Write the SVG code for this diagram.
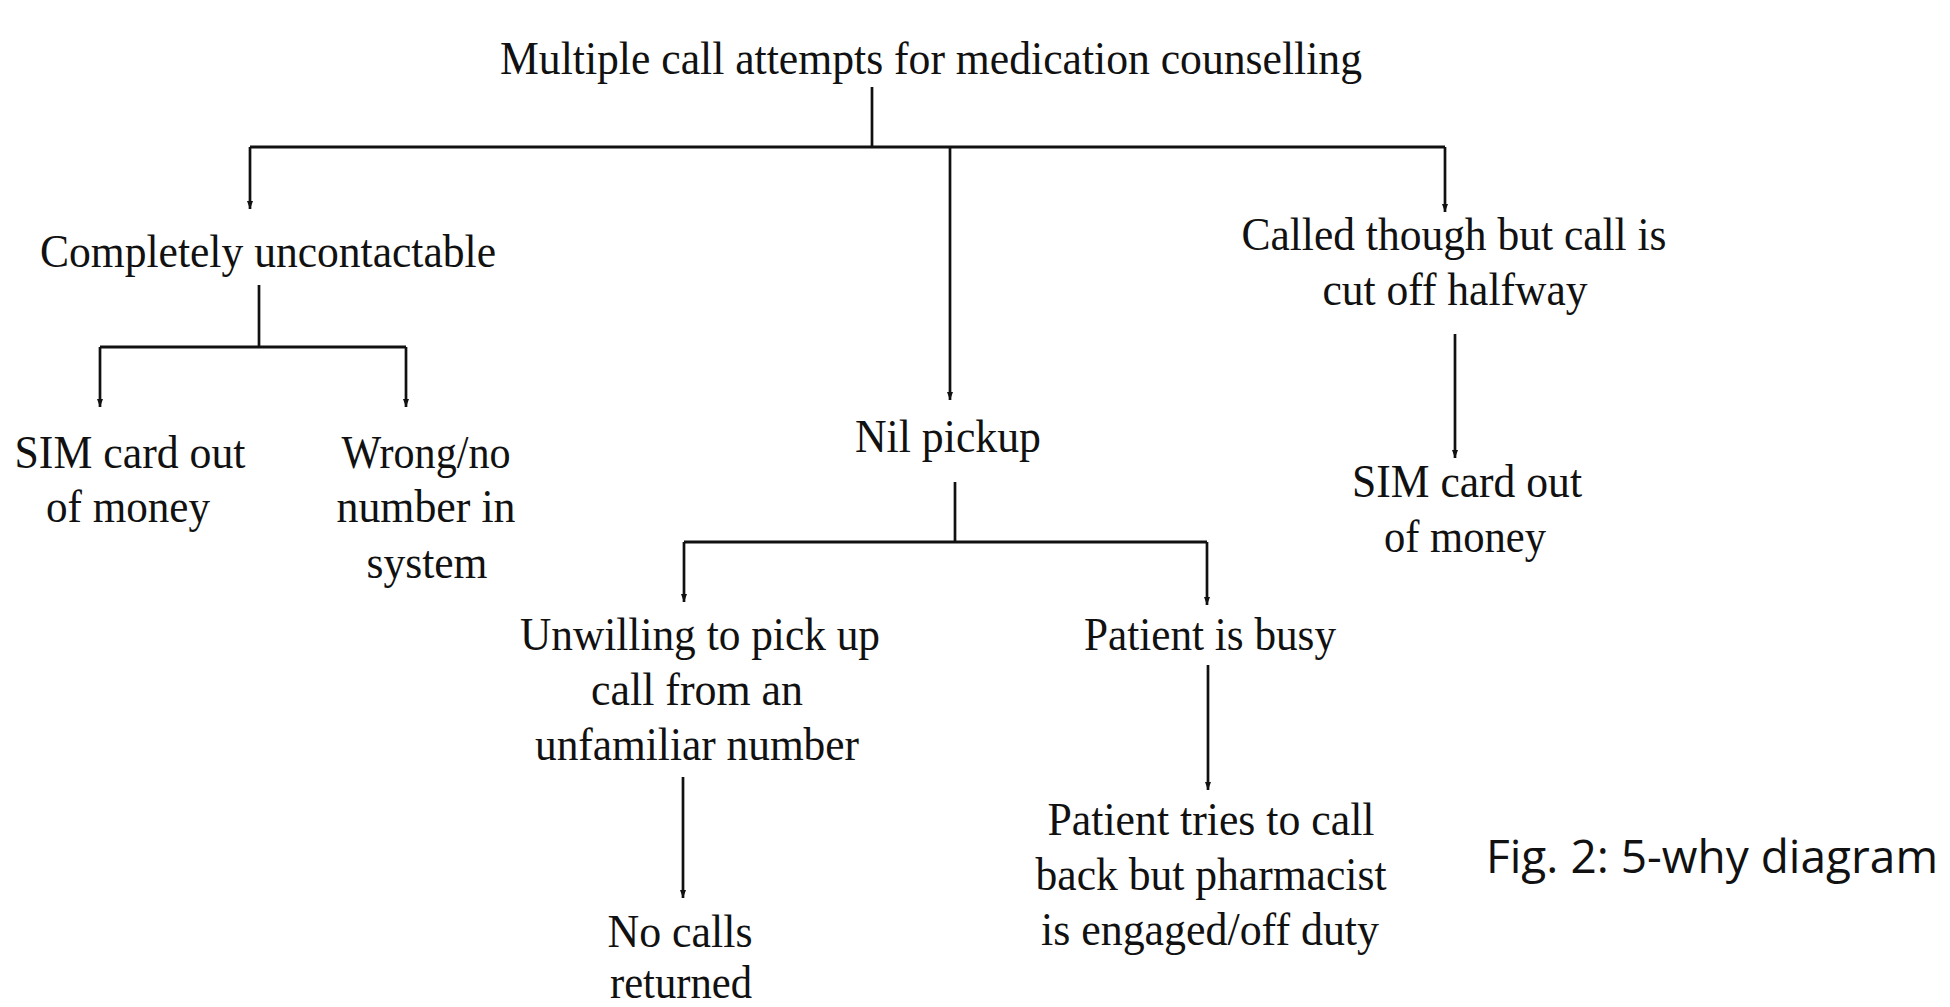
<svg xmlns="http://www.w3.org/2000/svg" width="1950" height="1007" viewBox="0 0 1950 1007">
<style>
  .t { font-family: "Liberation Serif", "Times New Roman", serif; font-size: 46px; fill: #111; text-anchor: middle; }
  .cap { font-family: "Open Sans", "Noto Sans", sans-serif; font-size: 46px; fill: #111; }
  .ln { fill: none; stroke: #111; stroke-width: 2.7; }
  .bar { fill: none; stroke: #111; stroke-width: 3.2; }
  .arr { fill: none; stroke: #111; stroke-width: 2.7; marker-end: url(#ah); }
</style>
<defs>
  <marker id="ah" viewBox="0 0 8 8" refX="8" refY="4" markerWidth="8" markerHeight="8" markerUnits="userSpaceOnUse" orient="auto">
    <path d="M0,1 L8,4 L0,7 z" fill="#111"/>
  </marker>
</defs>
<rect width="1950" height="1007" fill="#fff"/>

<g id="connectors">
  <path class="ln" d="M872,87 V147"/>
  <path class="bar" d="M250,147 H1445"/>
  <path class="arr" d="M250,147 V209"/>
  <path class="arr" d="M950,147 V400"/>
  <path class="arr" d="M1445,147 V212"/>
  <path class="ln" d="M259,285 V347"/>
  <path class="bar" d="M100,347 H406"/>
  <path class="arr" d="M100,347 V407"/>
  <path class="arr" d="M406,347 V407"/>
  <path class="ln" d="M955,482 V542"/>
  <path class="bar" d="M684,542 H1207"/>
  <path class="arr" d="M684,542 V602"/>
  <path class="arr" d="M1207,542 V605"/>
  <path class="arr" d="M1455,334 V458"/>
  <path class="arr" d="M683,777 V898"/>
  <path class="arr" d="M1208,665 V790"/>
</g>

<g id="n-root">
  <text class="t" x="931" y="74" textLength="862" lengthAdjust="spacingAndGlyphs">Multiple call attempts for medication counselling</text>
</g>
<g id="n-uncontactable">
  <text class="t" x="268" y="267" textLength="456" lengthAdjust="spacingAndGlyphs">Completely uncontactable</text>
</g>
<g id="n-sim-left">
  <text class="t" x="130" y="468" textLength="231" lengthAdjust="spacingAndGlyphs">SIM card out</text>
  <text class="t" x="128" y="522" textLength="164" lengthAdjust="spacingAndGlyphs">of money</text>
</g>
<g id="n-wrong">
  <text class="t" x="426" y="468" textLength="169" lengthAdjust="spacingAndGlyphs">Wrong/no</text>
  <text class="t" x="426" y="522" textLength="179" lengthAdjust="spacingAndGlyphs">number in</text>
  <text class="t" x="427" y="578" textLength="121" lengthAdjust="spacingAndGlyphs">system</text>
</g>
<g id="n-nil">
  <text class="t" x="948" y="452" textLength="186" lengthAdjust="spacingAndGlyphs">Nil pickup</text>
</g>
<g id="n-cutoff">
  <text class="t" x="1454" y="250" textLength="425" lengthAdjust="spacingAndGlyphs">Called though but call is</text>
  <text class="t" x="1455" y="305" textLength="265" lengthAdjust="spacingAndGlyphs">cut off halfway</text>
</g>
<g id="n-sim-right">
  <text class="t" x="1467" y="497" textLength="230" lengthAdjust="spacingAndGlyphs">SIM card out</text>
  <text class="t" x="1465" y="552" textLength="162" lengthAdjust="spacingAndGlyphs">of money</text>
</g>
<g id="n-unwilling">
  <text class="t" x="700" y="650" textLength="360" lengthAdjust="spacingAndGlyphs">Unwilling to pick up</text>
  <text class="t" x="697" y="705" textLength="212" lengthAdjust="spacingAndGlyphs">call from an</text>
  <text class="t" x="697" y="760" textLength="324" lengthAdjust="spacingAndGlyphs">unfamiliar number</text>
</g>
<g id="n-busy">
  <text class="t" x="1210" y="650" textLength="252" lengthAdjust="spacingAndGlyphs">Patient is busy</text>
</g>
<g id="n-nocalls">
  <text class="t" x="680" y="947" textLength="145" lengthAdjust="spacingAndGlyphs">No calls</text>
  <text class="t" x="681" y="998" textLength="142" lengthAdjust="spacingAndGlyphs">returned</text>
</g>
<g id="n-callback">
  <text class="t" x="1211" y="835" textLength="327" lengthAdjust="spacingAndGlyphs">Patient tries to call</text>
  <text class="t" x="1211" y="890" textLength="351" lengthAdjust="spacingAndGlyphs">back but pharmacist</text>
  <text class="t" x="1210" y="945" textLength="338" lengthAdjust="spacingAndGlyphs">is engaged/off duty</text>
</g>
<g id="caption">
  <text class="cap" x="1486" y="873" textLength="452" lengthAdjust="spacingAndGlyphs">Fig. 2: 5-why diagram</text>
</g>
</svg>
